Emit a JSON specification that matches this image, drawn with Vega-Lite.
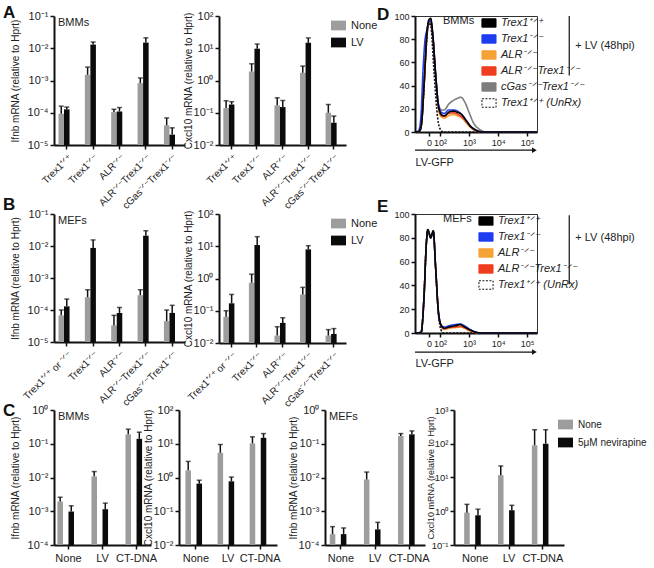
{
"$schema": "https://vega.github.io/schema/vega-lite/v6.json",
"padding": {"left": 3, "top": 4, "right": 0, "bottom": 0},
"config": {
  "font": "Liberation Sans, Arial, sans-serif",
  "view": {"stroke": null},
  "axis": {"domainColor": "#111", "domainWidth": 2, "tickColor": "#111", "tickWidth": 1.5, "tickSize": 4, "labelColor": "#222", "labelFontSize": 10, "titleFontSize": 10, "titleFontWeight": "normal", "titleColor": "#222", "grid": false, "labelPadding": 2, "titlePadding": 3, "labelOverlap": false},
  "legend": {"labelFontSize": 11, "labelColor": "#222"},
  "title": {"fontSize": 17, "fontWeight": "bold", "anchor": "start", "color": "#111"}
},
"datasets": {
  "bars": [
    {"chart": "A1", "cat": "Trex1⁺ᐟ⁺", "treat": "None", "val": 9.3e-5, "err": 1.6e-4},
    {"chart": "A1", "cat": "Trex1⁺ᐟ⁺", "treat": "LV", "val": 1.28e-4, "err": 1.5e-4},
    {"chart": "A1", "cat": "Trex1⁻ᐟ⁻", "treat": "None", "val": 1.5e-3, "err": 2.6e-3},
    {"chart": "A1", "cat": "Trex1⁻ᐟ⁻", "treat": "LV", "val": 1.3e-2, "err": 1.56e-2},
    {"chart": "A1", "cat": "ALR⁻ᐟ⁻", "treat": "None", "val": 1.05e-4, "err": 1.28e-4},
    {"chart": "A1", "cat": "ALR⁻ᐟ⁻", "treat": "LV", "val": 1.1e-4, "err": 1.45e-4},
    {"chart": "A1", "cat": "ALR⁻ᐟ⁻Trex1⁻ᐟ⁻", "treat": "None", "val": 8.3e-4, "err": 1.2e-3},
    {"chart": "A1", "cat": "ALR⁻ᐟ⁻Trex1⁻ᐟ⁻", "treat": "LV", "val": 1.5e-2, "err": 2.1e-2},
    {"chart": "A1", "cat": "cGas⁻ᐟ⁻Trex1⁻ᐟ⁻", "treat": "None", "val": 4.1e-5, "err": 6.9e-5},
    {"chart": "A1", "cat": "cGas⁻ᐟ⁻Trex1⁻ᐟ⁻", "treat": "LV", "val": 2.1e-5, "err": 3.4e-5},
    {"chart": "A2", "cat": "Trex1⁺ᐟ⁺", "treat": "None", "val": 0.14, "err": 0.235},
    {"chart": "A2", "cat": "Trex1⁺ᐟ⁺", "treat": "LV", "val": 0.18, "err": 0.22},
    {"chart": "A2", "cat": "Trex1⁻ᐟ⁻", "treat": "None", "val": 1.9, "err": 3.3},
    {"chart": "A2", "cat": "Trex1⁻ᐟ⁻", "treat": "LV", "val": 9.7, "err": 13.5},
    {"chart": "A2", "cat": "ALR⁻ᐟ⁻", "treat": "None", "val": 0.17, "err": 0.29},
    {"chart": "A2", "cat": "ALR⁻ᐟ⁻", "treat": "LV", "val": 0.15, "err": 0.24},
    {"chart": "A2", "cat": "ALR⁻ᐟ⁻Trex1⁻ᐟ⁻", "treat": "None", "val": 1.74, "err": 2.8},
    {"chart": "A2", "cat": "ALR⁻ᐟ⁻Trex1⁻ᐟ⁻", "treat": "LV", "val": 14.8, "err": 20.9},
    {"chart": "A2", "cat": "cGas⁻ᐟ⁻Trex1⁻ᐟ⁻", "treat": "None", "val": 0.1, "err": 0.18},
    {"chart": "A2", "cat": "cGas⁻ᐟ⁻Trex1⁻ᐟ⁻", "treat": "LV", "val": 0.049, "err": 0.079},
    {"chart": "B1", "cat": "Trex1⁺ᐟ⁺ or ⁻ᐟ⁻", "treat": "None", "val": 6.8e-5, "err": 1.0e-4},
    {"chart": "B1", "cat": "Trex1⁺ᐟ⁺ or ⁻ᐟ⁻", "treat": "LV", "val": 1.3e-4, "err": 2.2e-4},
    {"chart": "B1", "cat": "Trex1⁻ᐟ⁻", "treat": "None", "val": 2.5e-4, "err": 4.3e-4},
    {"chart": "B1", "cat": "Trex1⁻ᐟ⁻", "treat": "LV", "val": 8.7e-3, "err": 1.55e-2},
    {"chart": "B1", "cat": "ALR⁻ᐟ⁻", "treat": "None", "val": 3.3e-5, "err": 6.8e-5},
    {"chart": "B1", "cat": "ALR⁻ᐟ⁻", "treat": "LV", "val": 8.1e-5, "err": 1.2e-4},
    {"chart": "B1", "cat": "ALR⁻ᐟ⁻Trex1⁻ᐟ⁻", "treat": "None", "val": 2.9e-4, "err": 4.3e-4},
    {"chart": "B1", "cat": "ALR⁻ᐟ⁻Trex1⁻ᐟ⁻", "treat": "LV", "val": 2.1e-2, "err": 3.0e-2},
    {"chart": "B1", "cat": "cGas⁻ᐟ⁻Trex1⁻ᐟ⁻", "treat": "None", "val": 4.5e-5, "err": 1.0e-4},
    {"chart": "B1", "cat": "cGas⁻ᐟ⁻Trex1⁻ᐟ⁻", "treat": "LV", "val": 8.1e-5, "err": 1.4e-4},
    {"chart": "B2", "cat": "Trex1⁺ᐟ⁺ or ⁻ᐟ⁻", "treat": "None", "val": 0.065, "err": 0.1},
    {"chart": "B2", "cat": "Trex1⁺ᐟ⁺ or ⁻ᐟ⁻", "treat": "LV", "val": 0.17, "err": 0.32},
    {"chart": "B2", "cat": "Trex1⁻ᐟ⁻", "treat": "None", "val": 0.74, "err": 1.36},
    {"chart": "B2", "cat": "Trex1⁻ᐟ⁻", "treat": "LV", "val": 10.9, "err": 19.8},
    {"chart": "B2", "cat": "ALR⁻ᐟ⁻", "treat": "None", "val": 0.017, "err": 0.032},
    {"chart": "B2", "cat": "ALR⁻ᐟ⁻", "treat": "LV", "val": 0.042, "err": 0.061},
    {"chart": "B2", "cat": "ALR⁻ᐟ⁻Trex1⁻ᐟ⁻", "treat": "None", "val": 0.32, "err": 0.53},
    {"chart": "B2", "cat": "ALR⁻ᐟ⁻Trex1⁻ᐟ⁻", "treat": "LV", "val": 8.0, "err": 10.4},
    {"chart": "B2", "cat": "cGas⁻ᐟ⁻Trex1⁻ᐟ⁻", "treat": "None", "val": 0.017, "err": 0.026},
    {"chart": "B2", "cat": "cGas⁻ᐟ⁻Trex1⁻ᐟ⁻", "treat": "LV", "val": 0.019, "err": 0.028},
    {"chart": "C1", "cat": "None", "treat": "None", "val": 1.95e-3, "err": 2.6e-3},
    {"chart": "C1", "cat": "None", "treat": "5μM nevirapine", "val": 9.8e-4, "err": 1.45e-3},
    {"chart": "C1", "cat": "LV", "treat": "None", "val": 1.08e-2, "err": 1.5e-2},
    {"chart": "C1", "cat": "LV", "treat": "5μM nevirapine", "val": 1.15e-3, "err": 1.74e-3},
    {"chart": "C1", "cat": "CT-DNA", "treat": "None", "val": 0.19, "err": 0.27},
    {"chart": "C1", "cat": "CT-DNA", "treat": "5μM nevirapine", "val": 0.14, "err": 0.22},
    {"chart": "C2", "cat": "None", "treat": "None", "val": 1.63, "err": 3.0},
    {"chart": "C2", "cat": "None", "treat": "5μM nevirapine", "val": 0.66, "err": 0.83},
    {"chart": "C2", "cat": "LV", "treat": "None", "val": 5.4, "err": 9.5},
    {"chart": "C2", "cat": "LV", "treat": "5μM nevirapine", "val": 0.77, "err": 1.03},
    {"chart": "C2", "cat": "CT-DNA", "treat": "None", "val": 10.2, "err": 16},
    {"chart": "C2", "cat": "CT-DNA", "treat": "5μM nevirapine", "val": 15, "err": 20},
    {"chart": "C3", "cat": "None", "treat": "None", "val": 2.1e-4, "err": 3.5e-4},
    {"chart": "C3", "cat": "None", "treat": "5μM nevirapine", "val": 2.1e-4, "err": 3.2e-4},
    {"chart": "C3", "cat": "LV", "treat": "None", "val": 8.7e-3, "err": 1.45e-2},
    {"chart": "C3", "cat": "LV", "treat": "5μM nevirapine", "val": 2.9e-4, "err": 4.7e-4},
    {"chart": "C3", "cat": "CT-DNA", "treat": "None", "val": 0.17, "err": 0.2},
    {"chart": "C3", "cat": "CT-DNA", "treat": "5μM nevirapine", "val": 0.19, "err": 0.24},
    {"chart": "C4", "cat": "None", "treat": "None", "val": 0.91, "err": 1.6},
    {"chart": "C4", "cat": "None", "treat": "5μM nevirapine", "val": 0.76, "err": 1.15},
    {"chart": "C4", "cat": "LV", "treat": "None", "val": 11.7, "err": 22},
    {"chart": "C4", "cat": "LV", "treat": "5μM nevirapine", "val": 1.07, "err": 1.5},
    {"chart": "C4", "cat": "CT-DNA", "treat": "None", "val": 90, "err": 260},
    {"chart": "C4", "cat": "CT-DNA", "treat": "5μM nevirapine", "val": 100, "err": 260}
  ],
  "hist": [
    {"panel": "D", "sample": "CGASKO", "u": 1.14, "pct": 0}, {"panel": "D", "sample": "CGASKO", "u": 1.28, "pct": 0.5}, {"panel": "D", "sample": "CGASKO", "u": 1.36, "pct": 6}, {"panel": "D", "sample": "CGASKO", "u": 1.45, "pct": 38}, {"panel": "D", "sample": "CGASKO", "u": 1.55, "pct": 82}, {"panel": "D", "sample": "CGASKO", "u": 1.62, "pct": 93}, {"panel": "D", "sample": "CGASKO", "u": 1.68, "pct": 94}, {"panel": "D", "sample": "CGASKO", "u": 1.75, "pct": 82}, {"panel": "D", "sample": "CGASKO", "u": 1.85, "pct": 48}, {"panel": "D", "sample": "CGASKO", "u": 1.95, "pct": 24}, {"panel": "D", "sample": "CGASKO", "u": 2.05, "pct": 19}, {"panel": "D", "sample": "CGASKO", "u": 2.15, "pct": 19}, {"panel": "D", "sample": "CGASKO", "u": 2.3, "pct": 24}, {"panel": "D", "sample": "CGASKO", "u": 2.45, "pct": 27}, {"panel": "D", "sample": "CGASKO", "u": 2.6, "pct": 29}, {"panel": "D", "sample": "CGASKO", "u": 2.72, "pct": 30}, {"panel": "D", "sample": "CGASKO", "u": 2.85, "pct": 26}, {"panel": "D", "sample": "CGASKO", "u": 3.0, "pct": 17}, {"panel": "D", "sample": "CGASKO", "u": 3.15, "pct": 8}, {"panel": "D", "sample": "CGASKO", "u": 3.35, "pct": 2.5}, {"panel": "D", "sample": "CGASKO", "u": 3.6, "pct": 0}, {"panel": "D", "sample": "CGASKO", "u": 5.34, "pct": 0},
    {"panel": "D", "sample": "ALR", "u": 1.14, "pct": 0}, {"panel": "D", "sample": "ALR", "u": 1.28, "pct": 0.5}, {"panel": "D", "sample": "ALR", "u": 1.36, "pct": 6}, {"panel": "D", "sample": "ALR", "u": 1.45, "pct": 40}, {"panel": "D", "sample": "ALR", "u": 1.55, "pct": 83}, {"panel": "D", "sample": "ALR", "u": 1.62, "pct": 94}, {"panel": "D", "sample": "ALR", "u": 1.68, "pct": 95}, {"panel": "D", "sample": "ALR", "u": 1.75, "pct": 83}, {"panel": "D", "sample": "ALR", "u": 1.85, "pct": 48}, {"panel": "D", "sample": "ALR", "u": 1.95, "pct": 20}, {"panel": "D", "sample": "ALR", "u": 2.05, "pct": 13}, {"panel": "D", "sample": "ALR", "u": 2.15, "pct": 12}, {"panel": "D", "sample": "ALR", "u": 2.3, "pct": 14}, {"panel": "D", "sample": "ALR", "u": 2.45, "pct": 15}, {"panel": "D", "sample": "ALR", "u": 2.6, "pct": 14}, {"panel": "D", "sample": "ALR", "u": 2.75, "pct": 12}, {"panel": "D", "sample": "ALR", "u": 2.9, "pct": 8}, {"panel": "D", "sample": "ALR", "u": 3.05, "pct": 4}, {"panel": "D", "sample": "ALR", "u": 3.25, "pct": 1}, {"panel": "D", "sample": "ALR", "u": 3.5, "pct": 0}, {"panel": "D", "sample": "ALR", "u": 5.34, "pct": 0},
    {"panel": "D", "sample": "ALRKO", "u": 1.14, "pct": 0}, {"panel": "D", "sample": "ALRKO", "u": 1.28, "pct": 0.5}, {"panel": "D", "sample": "ALRKO", "u": 1.36, "pct": 6}, {"panel": "D", "sample": "ALRKO", "u": 1.45, "pct": 40}, {"panel": "D", "sample": "ALRKO", "u": 1.55, "pct": 84}, {"panel": "D", "sample": "ALRKO", "u": 1.62, "pct": 95}, {"panel": "D", "sample": "ALRKO", "u": 1.68, "pct": 96}, {"panel": "D", "sample": "ALRKO", "u": 1.75, "pct": 84}, {"panel": "D", "sample": "ALRKO", "u": 1.85, "pct": 49}, {"panel": "D", "sample": "ALRKO", "u": 1.95, "pct": 21}, {"panel": "D", "sample": "ALRKO", "u": 2.05, "pct": 14}, {"panel": "D", "sample": "ALRKO", "u": 2.15, "pct": 13.5}, {"panel": "D", "sample": "ALRKO", "u": 2.3, "pct": 16}, {"panel": "D", "sample": "ALRKO", "u": 2.45, "pct": 16.5}, {"panel": "D", "sample": "ALRKO", "u": 2.6, "pct": 15.5}, {"panel": "D", "sample": "ALRKO", "u": 2.75, "pct": 13}, {"panel": "D", "sample": "ALRKO", "u": 2.9, "pct": 9}, {"panel": "D", "sample": "ALRKO", "u": 3.05, "pct": 4.5}, {"panel": "D", "sample": "ALRKO", "u": 3.25, "pct": 1}, {"panel": "D", "sample": "ALRKO", "u": 3.5, "pct": 0}, {"panel": "D", "sample": "ALRKO", "u": 5.34, "pct": 0},
    {"panel": "D", "sample": "KO", "u": 1.14, "pct": 0}, {"panel": "D", "sample": "KO", "u": 1.26, "pct": 1}, {"panel": "D", "sample": "KO", "u": 1.34, "pct": 12}, {"panel": "D", "sample": "KO", "u": 1.42, "pct": 55}, {"panel": "D", "sample": "KO", "u": 1.48, "pct": 78}, {"panel": "D", "sample": "KO", "u": 1.55, "pct": 88}, {"panel": "D", "sample": "KO", "u": 1.62, "pct": 95}, {"panel": "D", "sample": "KO", "u": 1.68, "pct": 96}, {"panel": "D", "sample": "KO", "u": 1.75, "pct": 84}, {"panel": "D", "sample": "KO", "u": 1.85, "pct": 50}, {"panel": "D", "sample": "KO", "u": 1.95, "pct": 23}, {"panel": "D", "sample": "KO", "u": 2.05, "pct": 17}, {"panel": "D", "sample": "KO", "u": 2.15, "pct": 16}, {"panel": "D", "sample": "KO", "u": 2.3, "pct": 19}, {"panel": "D", "sample": "KO", "u": 2.45, "pct": 19}, {"panel": "D", "sample": "KO", "u": 2.6, "pct": 18}, {"panel": "D", "sample": "KO", "u": 2.75, "pct": 15}, {"panel": "D", "sample": "KO", "u": 2.9, "pct": 10}, {"panel": "D", "sample": "KO", "u": 3.05, "pct": 5}, {"panel": "D", "sample": "KO", "u": 3.25, "pct": 1.5}, {"panel": "D", "sample": "KO", "u": 3.5, "pct": 0}, {"panel": "D", "sample": "KO", "u": 5.34, "pct": 0},
    {"panel": "D", "sample": "WT", "u": 1.14, "pct": 0}, {"panel": "D", "sample": "WT", "u": 1.28, "pct": 0.5}, {"panel": "D", "sample": "WT", "u": 1.36, "pct": 6}, {"panel": "D", "sample": "WT", "u": 1.45, "pct": 40}, {"panel": "D", "sample": "WT", "u": 1.55, "pct": 85}, {"panel": "D", "sample": "WT", "u": 1.62, "pct": 97}, {"panel": "D", "sample": "WT", "u": 1.68, "pct": 98}, {"panel": "D", "sample": "WT", "u": 1.75, "pct": 85}, {"panel": "D", "sample": "WT", "u": 1.85, "pct": 50}, {"panel": "D", "sample": "WT", "u": 1.95, "pct": 22}, {"panel": "D", "sample": "WT", "u": 2.05, "pct": 15}, {"panel": "D", "sample": "WT", "u": 2.15, "pct": 14}, {"panel": "D", "sample": "WT", "u": 2.3, "pct": 17}, {"panel": "D", "sample": "WT", "u": 2.45, "pct": 18}, {"panel": "D", "sample": "WT", "u": 2.6, "pct": 17}, {"panel": "D", "sample": "WT", "u": 2.75, "pct": 15}, {"panel": "D", "sample": "WT", "u": 2.9, "pct": 10}, {"panel": "D", "sample": "WT", "u": 3.05, "pct": 5}, {"panel": "D", "sample": "WT", "u": 3.25, "pct": 1.5}, {"panel": "D", "sample": "WT", "u": 3.5, "pct": 0}, {"panel": "D", "sample": "WT", "u": 5.34, "pct": 0},
    {"panel": "D", "sample": "UNRX", "u": 1.14, "pct": 0}, {"panel": "D", "sample": "UNRX", "u": 1.3, "pct": 0}, {"panel": "D", "sample": "UNRX", "u": 1.4, "pct": 18}, {"panel": "D", "sample": "UNRX", "u": 1.5, "pct": 62}, {"panel": "D", "sample": "UNRX", "u": 1.6, "pct": 94}, {"panel": "D", "sample": "UNRX", "u": 1.68, "pct": 92}, {"panel": "D", "sample": "UNRX", "u": 1.8, "pct": 50}, {"panel": "D", "sample": "UNRX", "u": 1.92, "pct": 12}, {"panel": "D", "sample": "UNRX", "u": 2.02, "pct": 2}, {"panel": "D", "sample": "UNRX", "u": 2.12, "pct": 0}, {"panel": "D", "sample": "UNRX", "u": 5.34, "pct": 0},
    {"panel": "E", "sample": "ALR", "u": 1.14, "pct": 0}, {"panel": "E", "sample": "ALR", "u": 1.35, "pct": 0.5}, {"panel": "E", "sample": "ALR", "u": 1.45, "pct": 30}, {"panel": "E", "sample": "ALR", "u": 1.53, "pct": 75}, {"panel": "E", "sample": "ALR", "u": 1.58, "pct": 86}, {"panel": "E", "sample": "ALR", "u": 1.63, "pct": 83}, {"panel": "E", "sample": "ALR", "u": 1.68, "pct": 80}, {"panel": "E", "sample": "ALR", "u": 1.77, "pct": 85}, {"panel": "E", "sample": "ALR", "u": 1.85, "pct": 55}, {"panel": "E", "sample": "ALR", "u": 1.95, "pct": 16}, {"panel": "E", "sample": "ALR", "u": 2.05, "pct": 5}, {"panel": "E", "sample": "ALR", "u": 2.15, "pct": 3}, {"panel": "E", "sample": "ALR", "u": 2.3, "pct": 4}, {"panel": "E", "sample": "ALR", "u": 2.5, "pct": 4.5}, {"panel": "E", "sample": "ALR", "u": 2.7, "pct": 5}, {"panel": "E", "sample": "ALR", "u": 2.85, "pct": 4}, {"panel": "E", "sample": "ALR", "u": 3.0, "pct": 2}, {"panel": "E", "sample": "ALR", "u": 3.2, "pct": 0.5}, {"panel": "E", "sample": "ALR", "u": 3.4, "pct": 0}, {"panel": "E", "sample": "ALR", "u": 5.34, "pct": 0},
    {"panel": "E", "sample": "ALRKO", "u": 1.14, "pct": 0}, {"panel": "E", "sample": "ALRKO", "u": 1.35, "pct": 0.5}, {"panel": "E", "sample": "ALRKO", "u": 1.45, "pct": 30}, {"panel": "E", "sample": "ALRKO", "u": 1.53, "pct": 75}, {"panel": "E", "sample": "ALRKO", "u": 1.58, "pct": 86}, {"panel": "E", "sample": "ALRKO", "u": 1.63, "pct": 83}, {"panel": "E", "sample": "ALRKO", "u": 1.68, "pct": 80}, {"panel": "E", "sample": "ALRKO", "u": 1.77, "pct": 85}, {"panel": "E", "sample": "ALRKO", "u": 1.85, "pct": 55}, {"panel": "E", "sample": "ALRKO", "u": 1.95, "pct": 16}, {"panel": "E", "sample": "ALRKO", "u": 2.05, "pct": 5.5}, {"panel": "E", "sample": "ALRKO", "u": 2.15, "pct": 3.5}, {"panel": "E", "sample": "ALRKO", "u": 2.3, "pct": 4.5}, {"panel": "E", "sample": "ALRKO", "u": 2.5, "pct": 5}, {"panel": "E", "sample": "ALRKO", "u": 2.7, "pct": 5.5}, {"panel": "E", "sample": "ALRKO", "u": 2.85, "pct": 4.5}, {"panel": "E", "sample": "ALRKO", "u": 3.0, "pct": 2.5}, {"panel": "E", "sample": "ALRKO", "u": 3.2, "pct": 0.8}, {"panel": "E", "sample": "ALRKO", "u": 3.4, "pct": 0}, {"panel": "E", "sample": "ALRKO", "u": 5.34, "pct": 0},
    {"panel": "E", "sample": "KO", "u": 1.14, "pct": 0}, {"panel": "E", "sample": "KO", "u": 1.35, "pct": 0.5}, {"panel": "E", "sample": "KO", "u": 1.45, "pct": 30}, {"panel": "E", "sample": "KO", "u": 1.53, "pct": 75}, {"panel": "E", "sample": "KO", "u": 1.58, "pct": 86}, {"panel": "E", "sample": "KO", "u": 1.63, "pct": 83}, {"panel": "E", "sample": "KO", "u": 1.68, "pct": 80}, {"panel": "E", "sample": "KO", "u": 1.77, "pct": 85}, {"panel": "E", "sample": "KO", "u": 1.85, "pct": 55}, {"panel": "E", "sample": "KO", "u": 1.95, "pct": 17}, {"panel": "E", "sample": "KO", "u": 2.05, "pct": 6.5}, {"panel": "E", "sample": "KO", "u": 2.15, "pct": 5}, {"panel": "E", "sample": "KO", "u": 2.3, "pct": 6}, {"panel": "E", "sample": "KO", "u": 2.5, "pct": 7}, {"panel": "E", "sample": "KO", "u": 2.7, "pct": 7.5}, {"panel": "E", "sample": "KO", "u": 2.85, "pct": 6}, {"panel": "E", "sample": "KO", "u": 3.0, "pct": 3.5}, {"panel": "E", "sample": "KO", "u": 3.2, "pct": 1}, {"panel": "E", "sample": "KO", "u": 3.4, "pct": 0}, {"panel": "E", "sample": "KO", "u": 5.34, "pct": 0},
    {"panel": "E", "sample": "WT", "u": 1.14, "pct": 0}, {"panel": "E", "sample": "WT", "u": 1.35, "pct": 0.5}, {"panel": "E", "sample": "WT", "u": 1.45, "pct": 30}, {"panel": "E", "sample": "WT", "u": 1.53, "pct": 75}, {"panel": "E", "sample": "WT", "u": 1.58, "pct": 87}, {"panel": "E", "sample": "WT", "u": 1.63, "pct": 84}, {"panel": "E", "sample": "WT", "u": 1.68, "pct": 80}, {"panel": "E", "sample": "WT", "u": 1.77, "pct": 86}, {"panel": "E", "sample": "WT", "u": 1.85, "pct": 55}, {"panel": "E", "sample": "WT", "u": 1.95, "pct": 17}, {"panel": "E", "sample": "WT", "u": 2.05, "pct": 6}, {"panel": "E", "sample": "WT", "u": 2.15, "pct": 4}, {"panel": "E", "sample": "WT", "u": 2.3, "pct": 5}, {"panel": "E", "sample": "WT", "u": 2.5, "pct": 6}, {"panel": "E", "sample": "WT", "u": 2.7, "pct": 7}, {"panel": "E", "sample": "WT", "u": 2.85, "pct": 5}, {"panel": "E", "sample": "WT", "u": 3.0, "pct": 3}, {"panel": "E", "sample": "WT", "u": 3.2, "pct": 1}, {"panel": "E", "sample": "WT", "u": 3.4, "pct": 0}, {"panel": "E", "sample": "WT", "u": 5.34, "pct": 0},
    {"panel": "E", "sample": "UNRX", "u": 1.14, "pct": 0}, {"panel": "E", "sample": "UNRX", "u": 1.35, "pct": 0.5}, {"panel": "E", "sample": "UNRX", "u": 1.45, "pct": 30}, {"panel": "E", "sample": "UNRX", "u": 1.53, "pct": 75}, {"panel": "E", "sample": "UNRX", "u": 1.58, "pct": 86}, {"panel": "E", "sample": "UNRX", "u": 1.63, "pct": 84}, {"panel": "E", "sample": "UNRX", "u": 1.68, "pct": 80}, {"panel": "E", "sample": "UNRX", "u": 1.77, "pct": 85}, {"panel": "E", "sample": "UNRX", "u": 1.85, "pct": 55}, {"panel": "E", "sample": "UNRX", "u": 1.95, "pct": 15}, {"panel": "E", "sample": "UNRX", "u": 2.03, "pct": 3}, {"panel": "E", "sample": "UNRX", "u": 2.12, "pct": 0}, {"panel": "E", "sample": "UNRX", "u": 5.34, "pct": 0}
  ]
},
"resolve": {"scale": {"fill": "independent", "color": "independent"}, "legend": {"fill": "independent", "color": "independent"}},
"spacing": -15,
"vconcat": [
  {
    "spacing": -2,
    "resolve": {"scale": {"fill": "independent", "color": "independent"}, "legend": {"fill": "independent", "color": "independent"}},
    "hconcat": [
      {
        "title": {"text": "A", "offset": -12, "dx": -7},
        "spacing": -2,
        "resolve": {"scale": {"fill": "independent"}, "legend": {"fill": "independent"}},
        "hconcat": [
          {
            "width": 131, "height": 129,
            "title": {"text": "BMMs", "fontSize": 11, "fontWeight": "normal", "offset": -18, "dx": 4, "frame": "group", "color": "#222"},
            "data": {"name": "bars"},
            "transform": [{"filter": "datum.chart === 'A1'"}],
            "encoding": {
              "x": {"field": "cat", "type": "nominal", "sort": null, "title": null, "scale": {"paddingInner": 0.37, "paddingOuter": 0.17}, "axis": {"labelAngle": -45, "labelFontSize": 10, "labelPadding": 3}},
              "xOffset": {"field": "treat", "type": "nominal", "sort": ["None", "LV"]}
            },
            "layer": [
              {"mark": "bar", "encoding": {
                "y": {"field": "val", "type": "quantitative", "scale": {"type": "log", "domain": [1e-5, 0.1], "nice": false}, "axis": {"values": [1e-5, 1e-4, 1e-3, 1e-2, 0.1], "tickCount": 10, "labelFontSize": 11, "titlePadding": 7, "labelExpr": "['10⁻⁵','10⁻⁴','10⁻³','10⁻²','10⁻¹','10⁰','10¹','10²','10³'][round(log(datum.value)/LN10)+5]", "title": "Ifnb mRNA (relative to Hprt)"}},
                "y2": {"datum": 1e-5},
                "fill": {"field": "treat", "type": "nominal", "scale": {"domain": ["None", "LV"], "range": ["#9d9d9d", "#0b0b0b"]}, "legend": null}}},
              {"mark": {"type": "rule", "color": "#111", "strokeWidth": 1.5}, "encoding": {"y": {"field": "val", "type": "quantitative"}, "y2": {"field": "err"}}},
              {"mark": {"type": "tick", "color": "#111", "thickness": 1.5, "size": 5}, "encoding": {"y": {"field": "err", "type": "quantitative"}}}
            ]
          },
          {
            "width": 127, "height": 129,
            "data": {"name": "bars"},
            "transform": [{"filter": "datum.chart === 'A2'"}],
            "encoding": {
              "x": {"field": "cat", "type": "nominal", "sort": null, "title": null, "scale": {"paddingInner": 0.37, "paddingOuter": 0.17}, "axis": {"labelAngle": -45, "labelFontSize": 10, "labelPadding": 3}},
              "xOffset": {"field": "treat", "type": "nominal", "sort": ["None", "LV"]}
            },
            "layer": [
              {"mark": "bar", "encoding": {
                "y": {"field": "val", "type": "quantitative", "scale": {"type": "log", "domain": [0.01, 100], "nice": false}, "axis": {"values": [0.01, 0.1, 1, 10, 100], "tickCount": 10, "labelFontSize": 11, "titlePadding": 0, "labelExpr": "['10⁻⁵','10⁻⁴','10⁻³','10⁻²','10⁻¹','10⁰','10¹','10²','10³'][round(log(datum.value)/LN10)+5]", "title": "Cxcl10 mRNA (relative to Hprt)"}},
                "y2": {"datum": 0.01},
                "fill": {"field": "treat", "type": "nominal", "scale": {"domain": ["None", "LV"], "range": ["#9d9d9d", "#0b0b0b"]}, "legend": {"orient": "none", "legendX": 111, "legendY": 1, "title": null, "symbolType": "M-1,-0.65H1V0.65H-1Z", "symbolSize": 225, "labelFontSize": 11, "rowPadding": 3}}}},
              {"mark": {"type": "rule", "color": "#111", "strokeWidth": 1.5}, "encoding": {"y": {"field": "val", "type": "quantitative"}, "y2": {"field": "err"}}},
              {"mark": {"type": "tick", "color": "#111", "thickness": 1.5, "size": 5}, "encoding": {"y": {"field": "err", "type": "quantitative"}}}
            ]
          }
        ]
      },
      {
        "title": {"text": "D", "offset": -12, "dx": -17},
        "width": 122, "height": 116,
        "view": {"stroke": "#333", "strokeWidth": 1},
        "layer": [
          {"data": {"name": "hist"},
           "transform": [{"filter": "datum.panel === 'D'"}],
           "mark": {"type": "line", "strokeWidth": 1.6, "interpolate": "monotone"},
           "encoding": {
             "x": {"field": "u", "type": "quantitative", "scale": {"domain": [1.14, 5.34], "nice": false, "zero": false}, "axis": {"values": [1.62, 2, 3, 4, 5], "tickCount": 12, "labelFontSize": 9, "labelExpr": "datum.value < 1.9 ? '0' : ['','','10²','10³','10⁴','10⁵'][round(datum.value)]", "labelOverlap": false, "labelFlush": false, "title": "LV-GFP", "titleAnchor": "start", "titleFontSize": 11, "titlePadding": 9}},
             "y": {"field": "pct", "type": "quantitative", "scale": {"domain": [0, 100], "nice": false}, "axis": {"values": [0, 20, 40, 60, 80, 100], "tickCount": 12, "labelFontSize": 9, "labelOverlap": false, "title": null}},
             "color": {"field": "sample", "type": "nominal", "scale": {"domain": ["WT", "KO", "ALR", "ALRKO", "CGASKO", "UNRX"], "range": ["#000000", "#1d3df0", "#f5a236", "#ef3d1f", "#7d7d7d", "#111111"]},
               "legend": {"orient": "none", "legendX": 28, "legendY": -1, "title": "BMMs", "titleOrient": "left", "titleFontSize": 11, "titleFontWeight": "normal", "titleColor": "#222", "titleAnchor": "start", "titleBaseline": "top", "titlePadding": 6, "symbolType": "M-1,-0.6H1V0.6H-1Z", "symbolSize": 200, "symbolStrokeWidth": 1, "labelFontSize": 11, "labelFontStyle": "italic", "rowPadding": 1,
                 "labelExpr": "{'WT':'Trex1⁺ᐟ⁺','KO':'Trex1⁻ᐟ⁻','ALR':'ALR⁻ᐟ⁻','ALRKO':'ALR⁻ᐟ⁻Trex1⁻ᐟ⁻','CGASKO':'cGas⁻ᐟ⁻Trex1⁻ᐟ⁻','UNRX':'Trex1⁺ᐟ⁺ (UnRx)'}[datum.value]",
                 "encode": {"symbols": {"update": {
                   "fill": {"signal": "{'WT':'#000000','KO':'#1d3df0','ALR':'#f5a236','ALRKO':'#ef3d1f','CGASKO':'#7d7d7d','UNRX':'#ffffff'}[datum.value]"},
                   "stroke": {"signal": "{'WT':'#000000','KO':'#1d3df0','ALR':'#f5a236','ALRKO':'#ef3d1f','CGASKO':'#7d7d7d','UNRX':'#333333'}[datum.value]"},
                   "strokeDash": {"signal": "datum.value === 'UNRX' ? [2, 1.5] : [1, 0]"}}}}}},
             "strokeDash": {"field": "sample", "type": "nominal", "scale": {"domain": ["WT", "KO", "ALR", "ALRKO", "CGASKO", "UNRX"], "range": [[1, 0], [1, 0], [1, 0], [1, 0], [1, 0], [2, 1.5]]}, "legend": null}
           }},
          {"data": {"values": [{}]}, "mark": {"type": "rule", "color": "#111", "strokeWidth": 1.2}, "encoding": {"x": {"datum": 1.14}, "x2": {"datum": 5.22}, "y": {"datum": -15.7}}},
          {"data": {"values": [{}]}, "mark": {"type": "point", "shape": "triangle-right", "filled": true, "color": "#111", "size": 30, "opacity": 1}, "encoding": {"x": {"datum": 5.25}, "y": {"datum": -15.7}}},
          {"data": {"values": [{}]}, "mark": {"type": "rule", "color": "#111", "strokeWidth": 1.2}, "encoding": {"x": {"datum": 6.45}, "y": {"datum": 100}, "y2": {"datum": 48.6}}},
          {"data": {"values": [{}]}, "mark": {"type": "text", "align": "left", "baseline": "middle", "fontSize": 11, "color": "#222"}, "encoding": {"x": {"datum": 6.66}, "y": {"datum": 74}, "text": {"value": "+ LV (48hpi)"}}}
        ]
      }
    ]
  },
  {
    "spacing": -7,
    "resolve": {"scale": {"fill": "independent", "color": "independent"}, "legend": {"fill": "independent", "color": "independent"}},
    "vconcat": [
      {
        "spacing": -2,
        "resolve": {"scale": {"fill": "independent", "color": "independent"}, "legend": {"fill": "independent", "color": "independent"}},
        "hconcat": [
          {
            "title": {"text": "B", "offset": -6, "dx": -7},
            "spacing": -2,
            "resolve": {"scale": {"fill": "independent"}, "legend": {"fill": "independent"}},
            "hconcat": [
              {
                "width": 131, "height": 128,
                "title": {"text": "MEFs", "fontSize": 11, "fontWeight": "normal", "offset": -18, "dx": 4, "frame": "group", "color": "#222"},
                "data": {"name": "bars"},
                "transform": [{"filter": "datum.chart === 'B1'"}],
                "encoding": {
                  "x": {"field": "cat", "type": "nominal", "sort": null, "title": null, "scale": {"paddingInner": 0.37, "paddingOuter": 0.17}, "axis": {"labelAngle": -45, "labelFontSize": 10, "labelPadding": 3}},
                  "xOffset": {"field": "treat", "type": "nominal", "sort": ["None", "LV"]}
                },
                "layer": [
                  {"mark": "bar", "encoding": {
                    "y": {"field": "val", "type": "quantitative", "scale": {"type": "log", "domain": [1e-5, 0.1], "nice": false}, "axis": {"values": [1e-5, 1e-4, 1e-3, 1e-2, 0.1], "tickCount": 10, "labelFontSize": 11, "titlePadding": 7, "labelExpr": "['10⁻⁵','10⁻⁴','10⁻³','10⁻²','10⁻¹','10⁰','10¹','10²','10³'][round(log(datum.value)/LN10)+5]", "title": "Ifnb mRNA (relative to Hprt)"}},
                    "y2": {"datum": 1e-5},
                    "fill": {"field": "treat", "type": "nominal", "scale": {"domain": ["None", "LV"], "range": ["#9d9d9d", "#0b0b0b"]}, "legend": null}}},
                  {"mark": {"type": "rule", "color": "#111", "strokeWidth": 1.5}, "encoding": {"y": {"field": "val", "type": "quantitative"}, "y2": {"field": "err"}}},
                  {"mark": {"type": "tick", "color": "#111", "thickness": 1.5, "size": 5}, "encoding": {"y": {"field": "err", "type": "quantitative"}}}
                ]
              },
              {
                "width": 127, "height": 129,
                "data": {"name": "bars"},
                "transform": [{"filter": "datum.chart === 'B2'"}],
                "encoding": {
                  "x": {"field": "cat", "type": "nominal", "sort": null, "title": null, "scale": {"paddingInner": 0.37, "paddingOuter": 0.17}, "axis": {"labelAngle": -45, "labelFontSize": 10, "labelPadding": 3}},
                  "xOffset": {"field": "treat", "type": "nominal", "sort": ["None", "LV"]}
                },
                "layer": [
                  {"mark": "bar", "encoding": {
                    "y": {"field": "val", "type": "quantitative", "scale": {"type": "log", "domain": [0.01, 100], "nice": false}, "axis": {"values": [0.01, 0.1, 1, 10, 100], "tickCount": 10, "labelFontSize": 11, "titlePadding": 0, "labelExpr": "['10⁻⁵','10⁻⁴','10⁻³','10⁻²','10⁻¹','10⁰','10¹','10²','10³'][round(log(datum.value)/LN10)+5]", "title": "Cxcl10 mRNA (relative to Hprt)"}},
                    "y2": {"datum": 0.01},
                    "fill": {"field": "treat", "type": "nominal", "scale": {"domain": ["None", "LV"], "range": ["#9d9d9d", "#0b0b0b"]}, "legend": {"orient": "none", "legendX": 111, "legendY": 1, "title": null, "symbolType": "M-1,-0.65H1V0.65H-1Z", "symbolSize": 225, "labelFontSize": 11, "rowPadding": 3}}}},
                  {"mark": {"type": "rule", "color": "#111", "strokeWidth": 1.5}, "encoding": {"y": {"field": "val", "type": "quantitative"}, "y2": {"field": "err"}}},
                  {"mark": {"type": "tick", "color": "#111", "thickness": 1.5, "size": 5}, "encoding": {"y": {"field": "err", "type": "quantitative"}}}
                ]
              }
            ]
          },
          {
            "title": {"text": "E", "offset": -6, "dx": -17},
            "width": 122, "height": 119,
            "view": {"stroke": "#333", "strokeWidth": 1},
            "layer": [
              {"data": {"name": "hist"},
               "transform": [{"filter": "datum.panel === 'E'"}],
               "mark": {"type": "line", "strokeWidth": 1.6, "interpolate": "monotone"},
               "encoding": {
                 "x": {"field": "u", "type": "quantitative", "scale": {"domain": [1.14, 5.34], "nice": false, "zero": false}, "axis": {"values": [1.62, 2, 3, 4, 5], "tickCount": 12, "labelFontSize": 9, "labelExpr": "datum.value < 1.9 ? '0' : ['','','10²','10³','10⁴','10⁵'][round(datum.value)]", "labelOverlap": false, "labelFlush": false, "title": "LV-GFP", "titleAnchor": "start", "titleFontSize": 11, "titlePadding": 9}},
                 "y": {"field": "pct", "type": "quantitative", "scale": {"domain": [0, 100], "nice": false}, "axis": {"values": [0, 20, 40, 60, 80, 100], "tickCount": 12, "labelFontSize": 9, "labelOverlap": false, "title": null}},
                 "color": {"field": "sample", "type": "nominal", "scale": {"domain": ["WT", "KO", "ALR", "ALRKO", "UNRX"], "range": ["#000000", "#1d3df0", "#f5a236", "#ef3d1f", "#111111"]},
                   "legend": {"orient": "none", "legendX": 28, "legendY": -1, "title": "MEFs", "titleOrient": "left", "titleFontSize": 11, "titleFontWeight": "normal", "titleColor": "#222", "titleAnchor": "start", "titleBaseline": "top", "titlePadding": 6, "symbolType": "M-1,-0.6H1V0.6H-1Z", "symbolSize": 200, "symbolStrokeWidth": 1, "labelFontSize": 11, "labelFontStyle": "italic", "rowPadding": 1,
                     "labelExpr": "{'WT':'Trex1⁺ᐟ⁺','KO':'Trex1⁻ᐟ⁻','ALR':'ALR⁻ᐟ⁻','ALRKO':'ALR⁻ᐟ⁻Trex1⁻ᐟ⁻','CGASKO':'cGas⁻ᐟ⁻Trex1⁻ᐟ⁻','UNRX':'Trex1⁺ᐟ⁺ (UnRx)'}[datum.value]",
                     "encode": {"symbols": {"update": {
                       "fill": {"signal": "{'WT':'#000000','KO':'#1d3df0','ALR':'#f5a236','ALRKO':'#ef3d1f','CGASKO':'#7d7d7d','UNRX':'#ffffff'}[datum.value]"},
                       "stroke": {"signal": "{'WT':'#000000','KO':'#1d3df0','ALR':'#f5a236','ALRKO':'#ef3d1f','CGASKO':'#7d7d7d','UNRX':'#333333'}[datum.value]"},
                       "strokeDash": {"signal": "datum.value === 'UNRX' ? [2, 1.5] : [1, 0]"}}}}}},
                 "strokeDash": {"field": "sample", "type": "nominal", "scale": {"domain": ["WT", "KO", "ALR", "ALRKO", "UNRX"], "range": [[1, 0], [1, 0], [1, 0], [1, 0], [2, 1.5]]}, "legend": null}
               }},
              {"data": {"values": [{}]}, "mark": {"type": "rule", "color": "#111", "strokeWidth": 1.2}, "encoding": {"x": {"datum": 1.14}, "x2": {"datum": 5.22}, "y": {"datum": -16}}},
              {"data": {"values": [{}]}, "mark": {"type": "point", "shape": "triangle-right", "filled": true, "color": "#111", "size": 30, "opacity": 1}, "encoding": {"x": {"datum": 5.25}, "y": {"datum": -16}}},
              {"data": {"values": [{}]}, "mark": {"type": "rule", "color": "#111", "strokeWidth": 1.2}, "encoding": {"x": {"datum": 6.45}, "y": {"datum": 99}, "y2": {"datum": 41}}},
              {"data": {"values": [{}]}, "mark": {"type": "text", "align": "left", "baseline": "middle", "fontSize": 11, "color": "#222"}, "encoding": {"x": {"datum": 6.66}, "y": {"datum": 80}, "text": {"value": "+ LV (48hpi)"}}}
            ]
          }
        ]
      },
      {
        "title": {"text": "C", "offset": -16, "dx": -7},
        "spacing": 7,
        "resolve": {"scale": {"fill": "independent"}, "legend": {"fill": "independent"}},
        "hconcat": [
          {
            "spacing": -14,
            "resolve": {"scale": {"fill": "independent"}, "legend": {"fill": "independent"}},
            "hconcat": [
              {
                "width": 97, "height": 135,
                "title": {"text": "BMMs", "fontSize": 11, "fontWeight": "normal", "offset": -18, "dx": 4, "frame": "group", "color": "#222"},
                "data": {"name": "bars"},
                "transform": [{"filter": "datum.chart === 'C1'"}],
                "encoding": {
                  "x": {"field": "cat", "type": "nominal", "sort": null, "title": null, "scale": {"paddingInner": 0.35, "paddingOuter": 0.1}, "axis": {"labelAngle": 0, "labelFontSize": 11, "labelPadding": 3}},
                  "xOffset": {"field": "treat", "type": "nominal", "sort": ["None", "5μM nevirapine"]}
                },
                "layer": [
                  {"mark": "bar", "encoding": {
                    "y": {"field": "val", "type": "quantitative", "scale": {"type": "log", "domain": [1e-4, 1], "nice": false}, "axis": {"values": [1e-4, 1e-3, 1e-2, 0.1, 1], "tickCount": 10, "labelFontSize": 11, "titlePadding": 7, "labelExpr": "['10⁻⁵','10⁻⁴','10⁻³','10⁻²','10⁻¹','10⁰','10¹','10²','10³'][round(log(datum.value)/LN10)+5]", "title": "Ifnb mRNA (relative to Hprt)"}},
                    "y2": {"datum": 1e-4},
                    "fill": {"field": "treat", "type": "nominal", "scale": {"domain": ["None", "5μM nevirapine"], "range": ["#9d9d9d", "#0b0b0b"]}, "legend": null}}},
                  {"mark": {"type": "rule", "color": "#111", "strokeWidth": 1.5}, "encoding": {"y": {"field": "val", "type": "quantitative"}, "y2": {"field": "err"}}},
                  {"mark": {"type": "tick", "color": "#111", "thickness": 1.5, "size": 5}, "encoding": {"y": {"field": "err", "type": "quantitative"}}}
                ]
              },
              {
                "width": 98, "height": 135,
                "data": {"name": "bars"},
                "transform": [{"filter": "datum.chart === 'C2'"}],
                "encoding": {
                  "x": {"field": "cat", "type": "nominal", "sort": null, "title": null, "scale": {"paddingInner": 0.35, "paddingOuter": 0.2}, "axis": {"labelAngle": 0, "labelFontSize": 11, "labelPadding": 3}},
                  "xOffset": {"field": "treat", "type": "nominal", "sort": ["None", "5μM nevirapine"]}
                },
                "layer": [
                  {"mark": "bar", "encoding": {
                    "y": {"field": "val", "type": "quantitative", "scale": {"type": "log", "domain": [0.01, 100], "nice": false}, "axis": {"values": [0.01, 0.1, 1, 10, 100], "tickCount": 10, "labelFontSize": 11, "titlePadding": 0, "labelExpr": "['10⁻⁵','10⁻⁴','10⁻³','10⁻²','10⁻¹','10⁰','10¹','10²','10³'][round(log(datum.value)/LN10)+5]", "title": "Cxcl10 mRNA (relative to Hprt)"}},
                    "y2": {"datum": 0.01},
                    "fill": {"field": "treat", "type": "nominal", "scale": {"domain": ["None", "5μM nevirapine"], "range": ["#9d9d9d", "#0b0b0b"]}, "legend": null}}},
                  {"mark": {"type": "rule", "color": "#111", "strokeWidth": 1.5}, "encoding": {"y": {"field": "val", "type": "quantitative"}, "y2": {"field": "err"}}},
                  {"mark": {"type": "tick", "color": "#111", "thickness": 1.5, "size": 5}, "encoding": {"y": {"field": "err", "type": "quantitative"}}}
                ]
              }
            ]
          },
          {
            "spacing": -4,
            "resolve": {"scale": {"fill": "independent"}, "legend": {"fill": "independent"}},
            "hconcat": [
              {
                "width": 100, "height": 135,
                "title": {"text": "MEFs", "fontSize": 11, "fontWeight": "normal", "offset": -18, "dx": 4, "frame": "group", "color": "#222"},
                "data": {"name": "bars"},
                "transform": [{"filter": "datum.chart === 'C3'"}],
                "encoding": {
                  "x": {"field": "cat", "type": "nominal", "sort": null, "title": null, "scale": {"paddingInner": 0.35, "paddingOuter": 0.14}, "axis": {"labelAngle": 0, "labelFontSize": 11, "labelPadding": 3}},
                  "xOffset": {"field": "treat", "type": "nominal", "sort": ["None", "5μM nevirapine"]}
                },
                "layer": [
                  {"mark": "bar", "encoding": {
                    "y": {"field": "val", "type": "quantitative", "scale": {"type": "log", "domain": [1e-4, 1], "nice": false}, "axis": {"values": [1e-4, 1e-3, 1e-2, 0.1, 1], "tickCount": 10, "labelFontSize": 11, "titlePadding": 0, "labelExpr": "['10⁻⁵','10⁻⁴','10⁻³','10⁻²','10⁻¹','10⁰','10¹','10²','10³'][round(log(datum.value)/LN10)+5]", "title": "Ifnb mRNA (relative to Hprt)"}},
                    "y2": {"datum": 1e-4},
                    "fill": {"field": "treat", "type": "nominal", "scale": {"domain": ["None", "5μM nevirapine"], "range": ["#9d9d9d", "#0b0b0b"]}, "legend": null}}},
                  {"mark": {"type": "rule", "color": "#111", "strokeWidth": 1.5}, "encoding": {"y": {"field": "val", "type": "quantitative"}, "y2": {"field": "err"}}},
                  {"mark": {"type": "tick", "color": "#111", "thickness": 1.5, "size": 5}, "encoding": {"y": {"field": "err", "type": "quantitative"}}}
                ]
              },
              {
                "width": 110, "height": 135,
                "data": {"name": "bars"},
                "transform": [{"filter": "datum.chart === 'C4'"}],
                "encoding": {
                  "x": {"field": "cat", "type": "nominal", "sort": null, "title": null, "scale": {"paddingInner": 0.35, "paddingOuter": 0.3}, "axis": {"labelAngle": 0, "labelFontSize": 11, "labelPadding": 3}},
                  "xOffset": {"field": "treat", "type": "nominal", "sort": ["None", "5μM nevirapine"]}
                },
                "layer": [
                  {"mark": "bar", "encoding": {
                    "y": {"field": "val", "type": "quantitative", "scale": {"type": "log", "domain": [0.1, 1000], "nice": false}, "axis": {"values": [0.1, 1, 10, 100, 1000], "tickCount": 10, "labelFontSize": 9.5, "titleFontSize": 9, "titlePadding": -4, "labelExpr": "['10⁻⁵','10⁻⁴','10⁻³','10⁻²','10⁻¹','10⁰','10¹','10²','10³'][round(log(datum.value)/LN10)+5]", "title": "Cxcl10 mRNA (relative to Hprt)"}},
                    "y2": {"datum": 0.1},
                    "fill": {"field": "treat", "type": "nominal", "scale": {"domain": ["None", "5μM nevirapine"], "range": ["#9d9d9d", "#0b0b0b"]}, "legend": {"orient": "none", "legendX": 103, "legendY": 6, "title": null, "symbolType": "M-1,-0.65H1V0.65H-1Z", "symbolSize": 225, "labelFontSize": 10, "rowPadding": 4}}}},
                  {"mark": {"type": "rule", "color": "#111", "strokeWidth": 1.5}, "encoding": {"y": {"field": "val", "type": "quantitative"}, "y2": {"field": "err"}}},
                  {"mark": {"type": "tick", "color": "#111", "thickness": 1.5, "size": 5}, "encoding": {"y": {"field": "err", "type": "quantitative"}}}
                ]
              }
            ]
          }
        ]
      }
    ]
  }
]
}
